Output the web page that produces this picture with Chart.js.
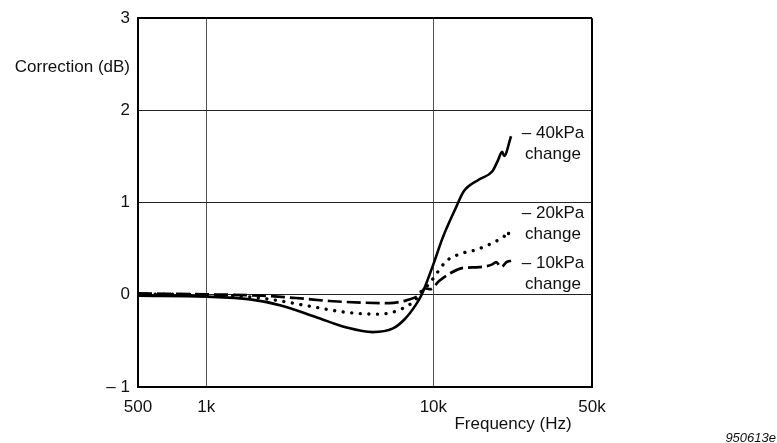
<!DOCTYPE html>
<html>
<head>
<meta charset="utf-8">
<title>Correction vs frequency</title>
<script src="https://cdn.jsdelivr.net/npm/chart.js@4.4.1/dist/chart.umd.min.js"></script>
<style>
    html, body { margin: 0; padding: 0; background: #fff; }
    #wrap { width: 777px; height: 443px; }
</style>
</head>
<body>
<div id="wrap"><canvas id="chart" width="777" height="443"></canvas></div>
<script>
// Axis ticks
const xTickValues = [500, 1000, 10000, 50000];
const xTickLabels = ['500', '1k', '10k', '50k'];
const yTickValues = [-1, 0, 1, 2, 3];
const yTickLabels = ['\u2013 1', '0', '1', '2', '3'];

// -40kPa change (solid)
const freq40 = [500, 1000, 1560, 2130, 3030, 4150, 5400, 6640, 7510, 8340, 8880, 10000, 11000, 12600, 13600, 15900, 18200, 19200, 20100, 20500, 22000];
const corr40 = [-0.01, -0.02, -0.05, -0.115, -0.24, -0.355, -0.405, -0.365, -0.26, -0.115, 0, 0.33, 0.62, 0.95, 1.12, 1.25, 1.34, 1.45, 1.55, 1.505, 1.72];

// -20kPa change (dotted)
const freq20 = [500, 1000, 1500, 2100, 2940, 4120, 5780, 7300, 8400, 8830, 9600, 10400, 11400, 13000, 15500, 17600, 19500, 20500, 21000, 21800];
const corr20 = [0.01, 0.0, -0.02, -0.065, -0.13, -0.19, -0.21, -0.15, -0.045, 0.035, 0.12, 0.24, 0.365, 0.44, 0.49, 0.545, 0.60, 0.635, 0.61, 0.73];

// -10kPa change (dashed)
const freq10 = [500, 1000, 1770, 2480, 3480, 4870, 6400, 7600, 8700, 9200, 9700, 10600, 11800, 13400, 15900, 18200, 18900, 19900, 21000, 22000];
const corr10 = [0.015, 0.005, -0.01, -0.035, -0.067, -0.085, -0.09, -0.06, 0.0, 0.07, 0.06, 0.15, 0.23, 0.29, 0.30, 0.33, 0.355, 0.30, 0.355, 0.37];

const seriesLabels = [['\u2013 40kPa', 'change'], ['\u2013 20kPa', 'change'], ['\u2013 10kPa', 'change']];
const yTitle = 'Correction (dB)';
const xTitle = 'Frequency (Hz)';
const figureCode = '950613e';

const FONT = '"Liberation Sans", Arial, Helvetica, sans-serif';

function toPoints(freqs, values) {
    return freqs.map((f, i) => ({ x: f, y: values[i] }));
}

// Free-standing texts: axis titles, curve labels, figure code
const textPlugin = {
    id: 'textPlugin',
    afterDraw(chart) {
        const ctx = chart.ctx;
        ctx.save();
        ctx.fillStyle = '#111';
        ctx.font = '17px ' + FONT;
        ctx.textBaseline = 'middle';

        ctx.textAlign = 'right';
        ctx.fillText(yTitle, 130, 67);

        ctx.textAlign = 'center';
        ctx.fillText(xTitle, 513, 424);

        const labelTops = [133, 213, 263];
        seriesLabels.forEach((lines, i) => {
            lines.forEach((line, j) => {
                ctx.fillText(line, 553, labelTops[i] + j * 21);
            });
        });

        ctx.font = 'italic 13px ' + FONT;
        ctx.textAlign = 'right';
        ctx.fillText(figureCode, 776, 438);
        ctx.restore();
    }
};

new Chart(document.getElementById('chart'), {
    type: 'line',
    data: {
        datasets: [
            {
                label: '-40kPa change',
                data: toPoints(freq40, corr40),
                borderColor: '#000',
                borderWidth: 2.6
            },
            {
                label: '-20kPa change',
                data: toPoints(freq20, corr20),
                borderColor: '#000',
                borderWidth: 3.3,
                borderDash: [0.1, 8.5],
                borderCapStyle: 'round'
            },
            {
                label: '-10kPa change',
                data: toPoints(freq10, corr10),
                borderColor: '#000',
                borderWidth: 2.7,
                borderDash: [14, 5]
            }
        ]
    },
    options: {
        responsive: false,
        animation: false,
        devicePixelRatio: 1,
        layout: { padding: { top: 16, right: 185, bottom: 0, left: 0 } },
        elements: {
            point: { radius: 0 },
            line: { cubicInterpolationMode: 'monotone', fill: false }
        },
        plugins: {
            legend: { display: false },
            tooltip: { enabled: false }
        },
        scales: {
            x: {
                type: 'logarithmic',
                min: 500,
                max: 50000,
                afterBuildTicks: s => { s.ticks = xTickValues.map(v => ({ value: v })); },
                afterFit: s => { s.height = 56; },
                ticks: {
                    autoSkip: false,
                    maxRotation: 0,
                    padding: 10,
                    color: '#111',
                    font: { family: FONT, size: 17 },
                    callback: (v, i) => xTickLabels[i]
                },
                grid: {
                    drawTicks: false,
                    color: c => (c.index === 3 ? '#000' : (c.index === 0 ? 'rgba(0,0,0,0)' : '#555')),
                    lineWidth: c => (c.index === 3 ? 2 : 1)
                },
                border: { color: '#000', width: 2 }
            },
            y: {
                type: 'linear',
                min: -1,
                max: 3,
                afterBuildTicks: s => { s.ticks = yTickValues.map(v => ({ value: v })); },
                afterFit: s => { s.width = 138; },
                ticks: {
                    padding: 8,
                    color: '#111',
                    font: { family: FONT, size: 17 },
                    callback: (v, i) => yTickLabels[i]
                },
                grid: {
                    drawTicks: false,
                    color: c => (c.index === 4 ? '#000' : (c.index === 0 ? 'rgba(0,0,0,0)' : '#222')),
                    lineWidth: c => (c.index === 4 ? 2 : 1)
                },
                border: { color: '#000', width: 2 }
            }
        }
    },
    plugins: [textPlugin]
});
</script>
</body>
</html>
